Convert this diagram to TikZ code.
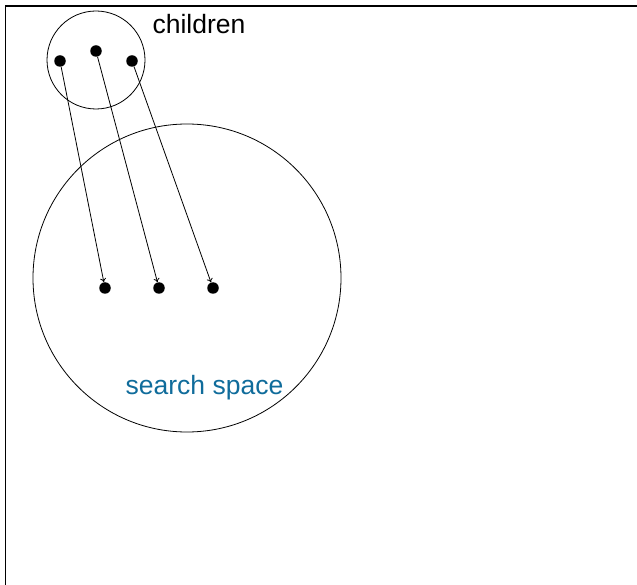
\documentclass[tikz,border=0pt]{standalone}
\usepackage{fontspec}
\setmainfont{Liberation Sans}
\usetikzlibrary{arrows.meta, positioning}
\definecolor{spaceblue}{RGB}{16,108,155}

\begin{document}
\begin{tikzpicture}[x=1pt, y=-1pt,
    dot/.style={circle, fill=black, inner sep=0pt, minimum size=11.5pt},
    ring/.style={draw, circle, inner sep=0pt, line width=0.8pt},
    link/.style={-{To[length=4pt, width=6pt]}, line width=0.8pt},
    lbl/.style={font=\fontsize{26.5}{31}\selectfont},
]
    \useasboundingbox (0, 0) rectangle (637, 585);
    \draw[line width=1.4pt] (5.5, 585) -- (5.5, 6) -- (637, 6);

    % circles
    \node[ring, minimum size=98pt] (family) at (96, 60) {};
    \node[ring, minimum size=308pt] (space) at (187, 278) {};
    \node[lbl, anchor=base west] (lblkids) at (149, 34) {children};
    \node[lbl, text=spaceblue] (lblspace) at (204.5, 388) {search space};

    % children
    \node[dot] (kid1) at (60, 61) {};
    \node[dot] (kid2) at (96, 51) {};
    \node[dot] (kid3) at (132, 61) {};

    % targets
    \node[dot] (pt1) at (105, 288) {};
    \node[dot] (pt2) at (159, 288) {};
    \node[dot] (pt3) at (213, 288) {};

    \draw[link] (kid1) -- (pt1);
    \draw[link] (kid2) -- (pt2);
    \draw[link] (kid3) -- (pt3);
\end{tikzpicture}
\end{document}
